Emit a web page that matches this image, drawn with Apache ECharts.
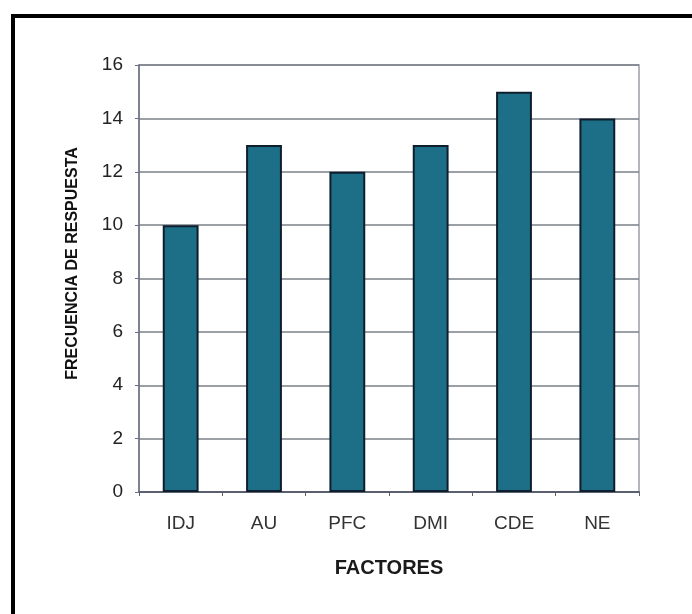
<!DOCTYPE html>
<html><head><meta charset="utf-8">
<script src="https://cdn.jsdelivr.net/npm/echarts@6/dist/echarts.min.js"></script>
<style>html,body{margin:0;padding:0;background:#fff}#c{width:692px;height:614px}</style>
</head><body><div id="c"></div>
<script>
var categories = ['IDJ','AU','PFC','DMI','CDE','NE'];
var values = [10, 13, 12, 13, 15, 14];
var yTicks = [0, 2, 4, 6, 8, 10, 12, 14, 16];

var chart = echarts.init(document.getElementById('c'));
chart.setOption({
  animation: false,
  backgroundColor: '#fff',
  graphic: [{
    type: 'rect', shape: {x: 13, y: 16, width: 700, height: 620},
    style: {fill: 'none', stroke: '#000', lineWidth: 4}, silent: true
  }],
  grid: {left: 139, right: 53, top: 65, bottom: 122, show: true, borderColor: '#9a9ea6', borderWidth: 1.5},
  xAxis: {
    type: 'category', data: categories,
    name: 'FACTORES', nameLocation: 'middle', nameGap: 66,
    nameTextStyle: {fontFamily: 'Liberation Sans', fontWeight: 'bold', fontSize: 20, color: '#1a1a1a'},
    axisLine: {lineStyle: {color: '#5a6070', width: 2}},
    axisTick: {show: true, length: 4, lineStyle: {color: '#5a6070'}},
    axisLabel: {fontFamily: 'Liberation Sans', fontSize: 19, color: '#333', margin: 22}
  },
  yAxis: {
    type: 'value', min: 0, max: 16, interval: 2,
    name: 'FRECUENCIA DE RESPUESTA', nameLocation: 'middle', nameGap: 58,
    nameTextStyle: {fontFamily: 'Liberation Sans', fontWeight: 'bold', fontSize: 16, color: '#111', padding: [0, 0, 0, 30]},
    axisLine: {show: true, lineStyle: {color: '#6a7080', width: 1.5}},
    axisTick: {show: true, length: 4, lineStyle: {color: '#6a7080'}},
    axisLabel: {fontFamily: 'Liberation Sans', fontSize: 19, color: '#222', margin: 16,
      formatter: function(v){ return yTicks.indexOf(v) >= 0 ? String(v) : ''; }},
    splitLine: {lineStyle: {color: '#7a7f88', width: 1.5}}
  },
  series: [{
    type: 'bar', data: values, barWidth: '43%',
    itemStyle: {color: '#1d6f87', borderColor: '#0f1e2c', borderWidth: 2}
  }]
});
</script></body></html>
